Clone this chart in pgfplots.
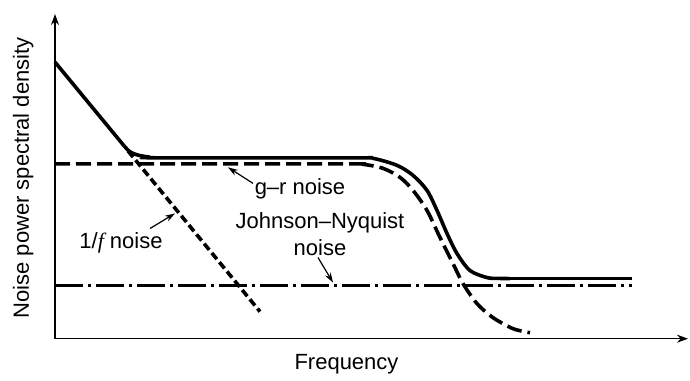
\documentclass[border=0pt]{standalone}
\usepackage{fontspec}
\setmainfont{Liberation Sans}
\newfontfamily\serifit{Liberation Serif}
\usepackage{pgfplots}
\pgfplotsset{compat=1.18}
\usetikzlibrary{arrows.meta}
\begin{document}
\begin{tikzpicture}[font=\fontsize{11}{13}\selectfont]
\begin{axis}[
  scale only axis,
  width=316.5pt, height=162pt,
  xmin=0, xmax=633, ymin=0, ymax=324,
  axis lines=left,
  axis line style={line width=0.6pt,-{Stealth[length=5.5pt,width=4pt]}},
  ticks=none,
  clip=false,
]
\path (axis cs:-55,-36) rectangle (axis cs:635,338);
% 1/f noise
\addplot[line width=1.8pt, dash pattern=on 4pt off 2pt] coordinates {(73,187.4) (205,27)};
% Johnson-Nyquist
\addplot[line width=1.8pt, dash pattern=on 14pt off 2.5pt on 1.5pt off 2.5pt] coordinates {(0,53) (577,53)};
% g-r noise
\addplot[line width=1.8pt, dash pattern=on 7.5pt off 3pt, smooth, tension=0.5] coordinates {
(0,174.5) (290,174.5) (308,174) (328,170) (345,161) (358,148) (372,128) (385,101) (398,75) (408,55) (422,35) (438,21) (458,10) (475,6)};
% total
\addplot[line width=1.8pt, line join=round] coordinates {(0,276) (69,192.5)};
\addplot[line width=1.8pt, smooth, tension=0.5] coordinates {
(69,192.5) (75,186.5) (83,183.2) (94,181.3) (105,180.5) (300,180.5) (318,180) (342,173) (358,163) (372,148) (382,128) (392,105) (402,85) (415,68) (432,61) (442,60.2) (455,60)};
\addplot[line width=1.8pt] coordinates {(455,60) (577,60)};
% annotations
\node at (axis cs:245,150) {g--r noise};
\draw[line width=0.6pt,-{Stealth[length=5pt,width=3.2pt]}] (axis cs:198,155) -- (axis cs:173,171);
\node at (axis cs:265,116) {Johnson--Nyquist};
\node at (axis cs:265,91) {noise};
\draw[line width=0.6pt,-{Stealth[length=5pt,width=3.2pt]}] (axis cs:263,81) -- (axis cs:278,56);
\node at (axis cs:66,96) {1/{\serifit\itshape f} noise};
\draw[line width=0.6pt,-{Stealth[length=5pt,width=3.2pt]}] (axis cs:95,110) -- (axis cs:120,125);
% axis labels
\node[anchor=base] at (axis cs:291.5,-31) {Frequency};
\node[anchor=base,rotate=90] at (axis cs:-26,160.5) {Noise power spectral density};
\end{axis}
\end{tikzpicture}
\end{document}
